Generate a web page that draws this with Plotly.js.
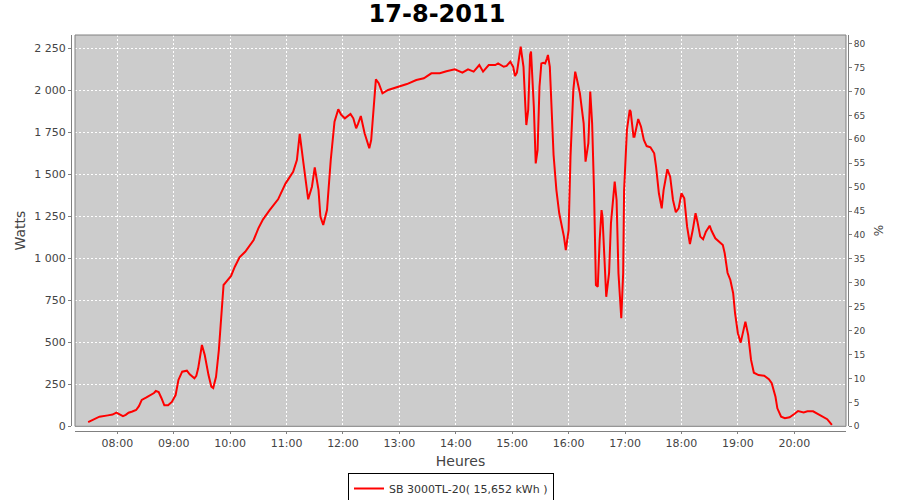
<!DOCTYPE html>
<html>
<head>
<meta charset="utf-8">
<script src="https://cdn.plot.ly/plotly-3.0.1.min.js"></script>
<style>html,body{margin:0;padding:0;background:#fff;}#chart{width:900px;height:500px;}</style>
</head>
<body>
<div id="chart"></div>
<script>
// ---- data ----
const chartDate = "2011-08-17";
const times = ["07:29","07:35","07:41","07:50","07:55","07:59","08:03","08:06","08:09","08:12","08:16","08:20","08:23","08:26","08:31","08:36","08:39","08:41","08:44","08:47","08:50","08:54","08:58","09:02","09:05","09:09","09:14","09:17","09:22","09:24","09:26","09:30","09:33","09:37","09:40","09:42","09:45","09:48","09:51","09:53","09:56","10:01","10:05","10:10","10:16","10:20","10:25","10:30","10:35","10:42","10:51","10:59","11:07","11:11","11:14","11:18","11:21","11:23","11:27","11:30","11:34","11:36","11:39","11:43","11:47","11:51","11:55","11:58","12:02","12:08","12:11","12:14","12:16","12:19","12:23","12:28","12:30","12:35","12:38","12:42","12:48","12:57","13:08","13:18","13:26","13:34","13:43","13:50","13:59","14:07","14:13","14:19","14:25","14:29","14:35","14:42","14:45","14:51","14:54","14:58","15:01","15:03","15:05","15:09","15:12","15:14","15:15","15:17","15:19","15:20","15:23","15:25","15:27","15:29","15:31","15:33","15:35","15:37","15:38","15:40","15:42","15:44","15:47","15:50","15:55","15:57","16:00","16:02","16:05","16:07","16:09","16:12","16:16","16:18","16:21","16:23","16:25","16:27","16:29","16:31","16:33","16:35","16:36","16:38","16:40","16:43","16:45","16:49","16:51","16:53","16:56","16:58","16:59","17:02","17:05","17:06","17:09","17:10","17:14","17:17","17:20","17:23","17:27","17:31","17:33","17:36","17:39","17:41","17:45","17:48","17:51","17:54","17:57","18:00","18:03","18:06","18:09","18:12","18:15","18:17","18:20","18:23","18:26","18:30","18:32","18:36","18:40","18:44","18:46","18:49","18:52","18:55","18:57","19:00","19:03","19:06","19:08","19:11","19:14","19:17","19:22","19:28","19:33","19:36","19:40","19:42","19:46","19:50","19:55","20:00","20:04","20:10","20:14","20:20","20:25","20:29","20:35","20:40"];
const watts = [25,40,57,65,70,81,72,61,68,81,88,97,120,157,172,186,198,210,204,167,125,125,145,186,276,325,331,309,286,300,345,484,424,305,236,228,295,454,712,841,861,895,950,1006,1039,1070,1109,1178,1232,1287,1351,1446,1515,1585,1740,1565,1426,1351,1426,1541,1406,1248,1198,1287,1585,1813,1887,1855,1833,1859,1833,1774,1800,1847,1744,1655,1704,2065,2042,1982,2002,2018,2037,2061,2071,2101,2101,2113,2125,2105,2125,2111,2150,2111,2150,2150,2160,2140,2145,2170,2140,2085,2105,2259,2140,1902,1793,1883,2210,2230,1902,1565,1645,2021,2160,2164,2160,2190,2210,2140,1902,1615,1406,1268,1129,1049,1168,1605,2002,2111,2061,1982,1803,1575,1685,1992,1803,1406,841,831,1109,1287,1248,1009,771,911,1208,1456,1347,911,643,911,1406,1764,1883,1873,1724,1724,1829,1783,1704,1668,1661,1625,1545,1387,1297,1406,1530,1486,1347,1274,1297,1387,1357,1188,1085,1168,1268,1218,1129,1113,1158,1194,1164,1119,1099,1079,1030,914,871,792,673,554,498,563,623,543,395,319,305,301,280,256,176,107,57,48,54,73,91,83,89,89,73,61,42,8];
const seriesName = "SB 3000TL-20( 15,652 kWh )";
const hourTicks = ["08:00","09:00","10:00","11:00","12:00","13:00","14:00","15:00","16:00","17:00","18:00","19:00","20:00"];
const wattTicks = [0,250,500,750,1000,1250,1500,1750,2000,2250];
const wattTickText = ["0","250","500","750","1 000","1 250","1 500","1 750","2 000","2 250"];
const xRange = ["07:15","20:55"];
const wattRange = [0, 2329];
const pctRange = [0, 81.8];

// ---- build ----
const toDate = t => chartDate + " " + t + ":00";
const xs = times.map(toDate);

const W = 900, H = 500;
const mL = 70, mR = 50, mT = 35, mB = 69;
const pw = W - mL - mR, ph = H - mT - mB;
const font = "DejaVu Sans, Verdana, sans-serif";

const traces = [
  {
    x: xs, y: watts, type: "scatter", mode: "lines",
    name: seriesName,
    line: {color: "#ff0000", width: 2},
    hoverinfo: "skip"
  },
  {
    x: [xs[0]], y: [0], yaxis: "y2", type: "scatter", mode: "markers",
    marker: {opacity: 0}, showlegend: false, hoverinfo: "skip"
  }
];

const layout = {
  width: W, height: H,
  paper_bgcolor: "#ffffff",
  plot_bgcolor: "#cccccc",
  margin: {l: mL, r: mR, t: mT, b: mB, pad: 0},
  title: {
    text: "<b>17-8-2011</b>",
    font: {family: font, size: 24, color: "#000000"},
    x: 437 / W, xref: "container", xanchor: "center",
    y: 1 - 14 / H, yref: "container", yanchor: "middle"
  },
  showlegend: true,
  legend: {
    orientation: "h",
    x: 451 / W, xref: "container", xanchor: "center",
    y: (H - 473) / H, yref: "container", yanchor: "top",
    bordercolor: "#000000", borderwidth: 1, bgcolor: "#ffffff",
    font: {family: font, size: 11, color: "#333333"},
    itemwidth: 30
  },
  xaxis: {
    type: "date",
    range: xRange.map(toDate),
    domain: [5 / pw, 776 / pw],
    anchor: "free", position: 0,
    showline: true, linecolor: "#808080", linewidth: 1,
    ticks: "outside", ticklen: 2, tickcolor: "#808080",
    tickvals: hourTicks.map(toDate), ticktext: hourTicks,
    tickfont: {family: font, size: 11, color: "#444444"},
    showgrid: true, gridcolor: "#ffffff", gridwidth: 1, griddash: "2px,2px",
    zeroline: false, automargin: false,
    title: {text: "Heures", font: {family: font, size: 14, color: "#444444"}, standoff: 6}
  },
  yaxis: {
    range: wattRange,
    domain: [4.7 / ph, 1],
    anchor: "free", position: 1 / pw,
    showline: true, linecolor: "#808080", linewidth: 1,
    ticks: "outside", ticklen: 3, tickcolor: "#808080",
    tickvals: wattTicks, ticktext: wattTickText,
    tickfont: {family: font, size: 11, color: "#444444"},
    showgrid: true, gridcolor: "#ffffff", gridwidth: 1, griddash: "2px,2px",
    zeroline: false, automargin: false,
    title: {text: "Watts", font: {family: font, size: 14, color: "#444444"}, standoff: 4}
  },
  yaxis2: {
    range: pctRange,
    overlaying: "y", side: "right",
    anchor: "free", position: 778 / pw,
    showline: true, linecolor: "#808080", linewidth: 1,
    ticks: "outside", ticklen: 3, tickcolor: "#808080",
    tick0: 0, dtick: 5,
    tickfont: {family: font, size: 9, color: "#444444"},
    showgrid: false, zeroline: false, automargin: false,
    title: {text: "%", font: {family: font, size: 12, color: "#444444"}, standoff: 10}
  },
  shapes: [{
    type: "rect", xref: "x domain", yref: "y domain",
    x0: 0, x1: 1, y0: 0, y1: 1,
    line: {color: "#808080", width: 1}, fillcolor: "rgba(0,0,0,0)", layer: "above"
  }]
};

Plotly.newPlot("chart", traces, layout, {staticPlot: true, displayModeBar: false});
</script>
</body>
</html>
